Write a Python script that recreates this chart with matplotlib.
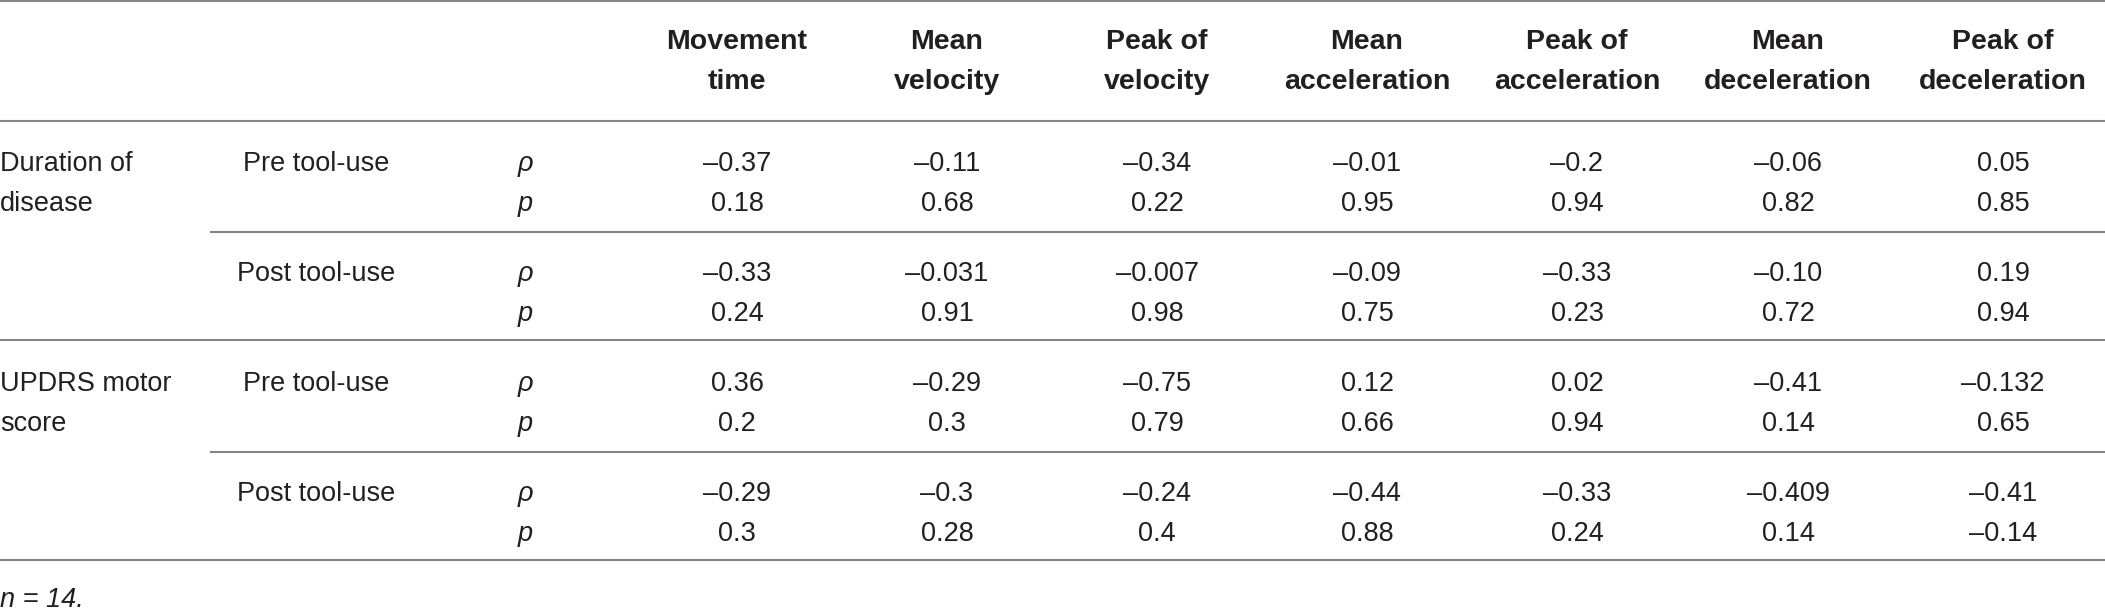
import matplotlib.pyplot as plt

# ── table content ─────────────────────────────────────────────────────────────
columns = ["Movement\ntime", "Mean\nvelocity", "Peak of\nvelocity",
           "Mean\nacceleration", "Peak of\nacceleration",
           "Mean\ndeceleration", "Peak of\ndeceleration"]
groups = ["Duration of\ndisease", "UPDRS motor\nscore"]
phases = ["Pre tool-use", "Post tool-use"]
stats = ["ρ", "p"]

dur_pre_rho = ["–0.37", "–0.11", "–0.34", "–0.01", "–0.2", "–0.06", "0.05"]
dur_pre_p = ["0.18", "0.68", "0.22", "0.95", "0.94", "0.82", "0.85"]
dur_post_rho = ["–0.33", "–0.031", "–0.007", "–0.09", "–0.33", "–0.10", "0.19"]
dur_post_p = ["0.24", "0.91", "0.98", "0.75", "0.23", "0.72", "0.94"]
upd_pre_rho = ["0.36", "–0.29", "–0.75", "0.12", "0.02", "–0.41", "–0.132"]
upd_pre_p = ["0.2", "0.3", "0.79", "0.66", "0.94", "0.14", "0.65"]
upd_post_rho = ["–0.29", "–0.3", "–0.24", "–0.44", "–0.33", "–0.409", "–0.41"]
upd_post_p = ["0.3", "0.28", "0.4", "0.88", "0.24", "0.14", "–0.14"]

footnote = "n = 14."

rows = [
    [(dur_pre_rho, dur_pre_p), (dur_post_rho, dur_post_p)],
    [(upd_pre_rho, upd_pre_p), (upd_post_rho, upd_post_p)],
]

# ── layout (pixels, figure is 2105 x 611) ─────────────────────────────────────
W, H = 2105, 611
col_x = [737, 947, 1157, 1367, 1577, 1788, 2003]
phase_x = 316
stat_x = 525
header_y = [42, 82]
header_line = 121
section_h = 110
sub_line_x0 = 211
line_col = "#858585"
text_col = "#231f20"
FS = 19.5

plt.rcParams["font.family"] = ["Liberation Sans", "DejaVu Sans"]

fig = plt.figure(figsize=(W / 100, H / 100), dpi=100)
ax = fig.add_axes([0, 0, 1, 1])
ax.set_xlim(0, W)
ax.set_ylim(H, 0)
ax.axis("off")

# header
for x, label in zip(col_x, columns):
    for y, part in zip(header_y, label.split("\n")):
        ax.text(x, y, part, ha="center", va="center", fontsize=20.5,
                fontweight="bold", color=text_col)

ax.plot([0, W], [1, 1], color=line_col, lw=1.5)
ax.plot([0, W], [header_line, header_line], color=line_col, lw=1.5)

# body
for g, (group, group_rows) in enumerate(zip(groups, rows)):
    g_top = header_line + g * 2 * section_h
    for i, line in enumerate(group.split("\n")):
        ax.text(0, g_top + 50 + i * 40, line, ha="left", va="baseline",
                fontsize=FS, color=text_col)
    for s, (phase, (rho_vals, p_vals)) in enumerate(zip(phases, group_rows)):
        top = g_top + s * section_h
        base1 = top + 50
        base2 = top + 90
        ax.text(phase_x, base1, phase, ha="center", va="baseline",
                fontsize=FS, color=text_col)
        for base, sym in zip([base1, base2], stats):
            ax.text(stat_x, base, sym, ha="center", va="baseline",
                    fontsize=FS, style="italic", color=text_col)
        for x, rv, pv in zip(col_x, rho_vals, p_vals):
            ax.text(x, base1, rv, ha="center", va="baseline",
                    fontsize=FS, color=text_col)
            ax.text(x, base2, pv, ha="center", va="baseline",
                    fontsize=FS, color=text_col)
        if s == 0:
            ax.plot([sub_line_x0, W], [top + section_h + 1] * 2,
                    color=line_col, lw=1.5)
    bottom = g_top + 2 * section_h - 1
    ax.plot([0, W], [bottom, bottom], color=line_col, lw=1.5)

# footnote just above the bottom edge
ax.text(0, 607, footnote, ha="left", va="baseline", fontsize=FS,
        style="italic", color=text_col)

fig.savefig("out.png", dpi=100)
